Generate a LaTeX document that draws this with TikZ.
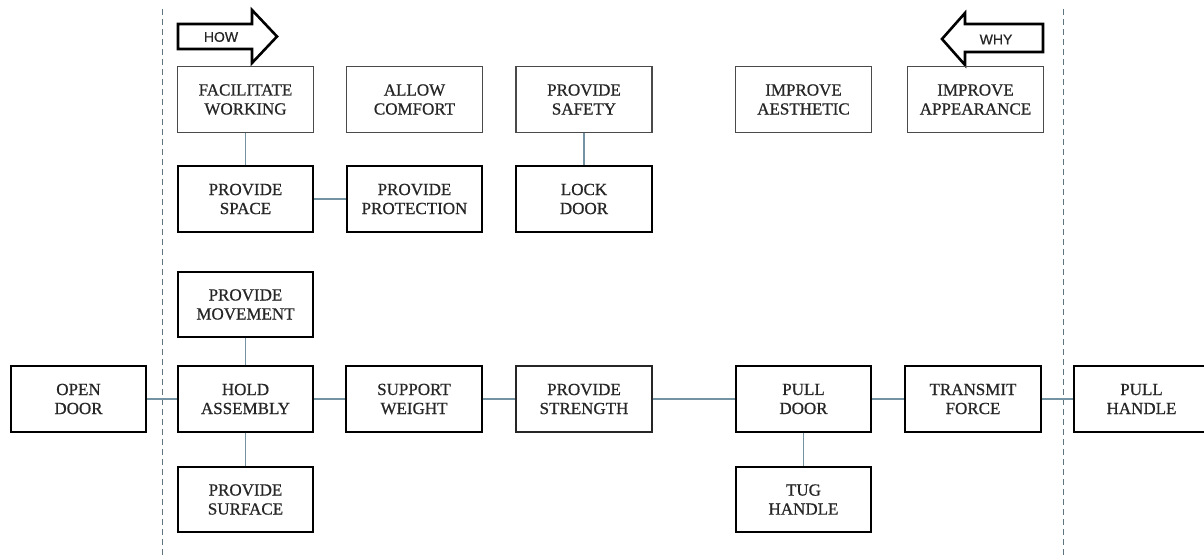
\documentclass[tikz,border=0pt]{standalone}
\usepackage{fontspec}
\setmainfont{Liberation Serif}[FakeBold=0.7]
\newfontfamily\arrowfont{Liberation Sans}[FakeBold=0.6]
\definecolor{conn}{HTML}{7393A3}
\definecolor{dashc}{HTML}{5E7480}
\definecolor{thinb}{HTML}{4A4A4A}
\begin{document}
\begin{tikzpicture}[x=1pt,y=-1pt,
  fbox/.style={draw=black,line width=1.7pt,minimum width=135.5pt,minimum height=65.5pt,
    inner sep=0pt,align=center,font=\fontsize{17}{19}\selectfont,text=black!85},
  fboxthin/.style={fbox,draw=thinb,line width=1.1pt,minimum width=136pt,minimum height=66pt},
  link/.style={draw=conn,line width=1.3pt},
  divider/.style={draw=dashc,line width=1pt,dash pattern=on 6pt off 4pt},
  blockarrow/.style={draw=black,line width=2.6pt,fill=white,line join=miter},
  arrowlabel/.style={font=\arrowfont\fontsize{14}{14}\selectfont,text=black!85,inner sep=0pt}]
\useasboundingbox (0,0) rectangle (1204,556);
\fill[white] (0,0) rectangle (1204,556);

% dashed dividers
\coordinate (dlt) at (162,9);
\coordinate (dlb) at (162,556);
\coordinate (drt) at (1063,9);
\coordinate (drb) at (1063,556);
\draw[divider] (dlt) -- (dlb);
\draw[divider] (drt) -- (drb);

% HOW arrow
\draw[blockarrow] (178,24) -- (252,24) -- (252,10) -- (277,36.5) -- (252,63) -- (252,49) -- (178,49) -- cycle;
\node[arrowlabel] (how) at (221,37) {HOW};
% WHY arrow
\draw[blockarrow] (1043,24) -- (965,24) -- (965,13) -- (942,39) -- (965,65) -- (965,52) -- (1043,52) -- cycle;
\node[arrowlabel] (why) at (996,39.5) {WHY};

% row 1
\node[fboxthin] (fw)   at (245.5,99.5) {FACILITATE\\WORKING};
\node[fboxthin] (ac)   at (414.5,99.5) {ALLOW\\COMFORT};
\node[fboxthin] (psaf) at (584,99.5)   {PROVIDE\\SAFETY};
\node[fboxthin] (iae)  at (803.5,99.5) {IMPROVE\\AESTHETIC};
\node[fboxthin] (iap)  at (975.5,99.5) {IMPROVE\\APPEARANCE};

% row 2
\node[fbox] (psp) at (245.5,199) {PROVIDE\\SPACE};
\node[fbox] (pp)  at (414.5,199) {PROVIDE\\PROTECTION};
\node[fbox] (ld)  at (584,199)   {LOCK\\DOOR};

% row 3
\node[fbox] (pm) at (245.5,304.5) {PROVIDE\\MOVEMENT};

% row 4
\node[fbox] (od)   at (78.5,399)   {OPEN\\DOOR};
\node[fbox] (ha)   at (245.5,399)  {HOLD\\ASSEMBLY};
\node[fbox] (sw)   at (414,399)    {SUPPORT\\WEIGHT};
\node[fboxthin,draw=black!85,line width=1.4pt] (pstr) at (584,399) {PROVIDE\\STRENGTH};
\node[fbox] (pd)   at (803.5,399)  {PULL\\DOOR};
\node[fbox] (tf)   at (973,399)    {TRANSMIT\\FORCE};
\node[fbox] (ph)   at (1141.5,399) {PULL\\HANDLE};

% row 5
\node[fbox] (psu) at (245.5,499.5) {PROVIDE\\SURFACE};
\node[fbox] (tug) at (803.5,499.5) {TUG\\HANDLE};

% connectors
\draw[link] (fw.south) -- (psp.north);
\draw[link] (psp.east) -- (pp.west);
\draw[link] (psaf.south) -- (ld.north);
\draw[link] (pm.south) -- (ha.north);
\draw[link] (od.east) -- (ha.west);
\draw[link] (ha.east) -- (sw.west);
\draw[link] (sw.east) -- (pstr.west);
\draw[link] (pstr.east) -- (pd.west);
\draw[link] (pd.east) -- (tf.west);
\draw[link] (tf.east) -- (ph.west);
\draw[link] (ha.south) -- (psu.north);
\draw[link] (pd.south) -- (tug.north);
\end{tikzpicture}
\end{document}
